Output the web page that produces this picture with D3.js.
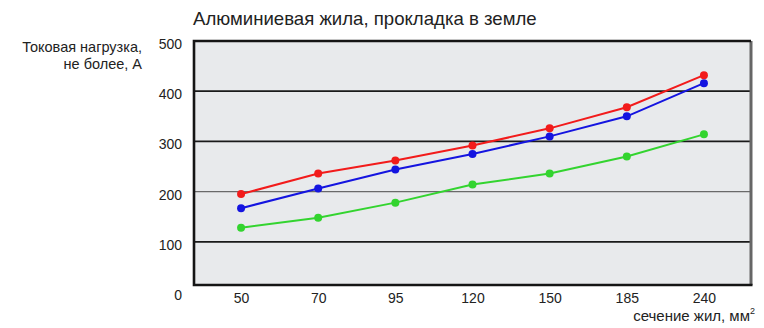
<!DOCTYPE html>
<html>
<head>
<meta charset="utf-8">
<script src="https://cdn.jsdelivr.net/npm/d3@7"></script>
<style>
  html, body { margin: 0; padding: 0; background: #fff; }
  svg { display: block; font-family: "Liberation Sans", Arial, sans-serif; }
</style>
</head>
<body>
<svg id="chart" width="764" height="328"></svg>
<script>
// Cross-sections of the conductors, mm²
const sections = ["50", "70", "95", "120", "150", "185", "240"];
// Current load, A, per cable type
const seriesRed   = [195, 236, 262, 292, 326, 368, 432];
const seriesBlue  = [167, 206, 244, 275, 310, 350, 416];
const seriesGreen = [128, 148, 178, 214, 236, 270, 314];
const yTicks = [0, 100, 200, 300, 400, 500];

const series = [
  { values: seriesGreen, color: "#33d42f" },
  { values: seriesBlue,  color: "#1414e0" },
  { values: seriesRed,   color: "#f21b1b" }
];

const svg = d3.select("#chart");
const plot = { left: 194, right: 751, top: 41 };

const y = d3.scaleLinear().domain([0, 500]).range([292, 41]);
const x = d3.scalePoint().domain(sections).range([plot.left, plot.right]).padding(0.61);
const plotBottom = y(14);

// Title
svg.append("text")
  .attr("x", 193).attr("y", 25)
  .attr("font-size", 18.6).attr("fill", "#222")
  .text("Алюминиевая жила, прокладка в земле");

// Y axis title
const yt = svg.append("text").attr("text-anchor", "end").attr("font-size", 14.5).attr("fill", "#222");
yt.append("tspan").attr("x", 142).attr("y", 52).text("Токовая нагрузка,");
yt.append("tspan").attr("x", 142).attr("y", 69).text("не более, А");

// Plot background
svg.append("rect")
  .attr("x", plot.left).attr("y", plot.top)
  .attr("width", plot.right - plot.left).attr("height", plotBottom - plot.top)
  .attr("fill", "#e8eaec");

// Horizontal grid lines
svg.append("g").selectAll("line")
  .data(yTicks.filter(d => d > 0 && d < 500))
  .join("line")
  .attr("x1", plot.left).attr("x2", plot.right)
  .attr("y1", d => y(d)).attr("y2", d => y(d))
  .attr("stroke", d => d === 200 ? "#6a6a6a" : "#1a1a1a")
  .attr("stroke-width", d => d === 200 ? 1.2 : 1.8);

// Frame: dark top/left/bottom, grey right side
svg.append("line").attr("x1", plot.right).attr("x2", plot.right)
  .attr("y1", plot.top).attr("y2", plotBottom)
  .attr("stroke", "#666").attr("stroke-width", 3);
svg.append("path")
  .attr("d", `M${plot.right},${plot.top}H${plot.left}V${plotBottom}H${plot.right + 1.5}`)
  .attr("fill", "none").attr("stroke", "#151515").attr("stroke-width", 2.6);

// Y axis labels
const yAxis = d3.axisLeft(y).tickValues(yTicks).tickSize(0).tickPadding(0);
const gy = svg.append("g").attr("transform", "translate(182,3)").call(yAxis);
gy.select(".domain").remove();
gy.selectAll("text").attr("font-size", 14).attr("fill", "#222").attr("font-family", "Liberation Sans, Arial, sans-serif");

// X axis labels
const xAxis = d3.axisBottom(x).tickSize(0).tickPadding(0);
const gx = svg.append("g").attr("transform", "translate(0,293)").call(xAxis);
gx.select(".domain").remove();
gx.selectAll("text").attr("font-size", 14).attr("fill", "#222").attr("font-family", "Liberation Sans, Arial, sans-serif");

// X axis title
const xt = svg.append("text").attr("text-anchor", "end").attr("font-size", 15).attr("fill", "#222")
  .attr("x", 755).attr("y", 321);
xt.append("tspan").text("сечение жил, мм");
xt.append("tspan").attr("dy", -7).attr("font-size", 9).text("2");

// Lines and markers
const line = d3.line().x((d, i) => x(sections[i])).y(d => y(d));
series.forEach(s => {
  svg.append("path").datum(s.values)
    .attr("d", line).attr("fill", "none")
    .attr("stroke", s.color).attr("stroke-width", 2);
  svg.append("g").selectAll("circle").data(s.values).join("circle")
    .attr("cx", (d, i) => x(sections[i])).attr("cy", d => y(d))
    .attr("r", 4).attr("fill", s.color);
});
</script>
</body>
</html>
